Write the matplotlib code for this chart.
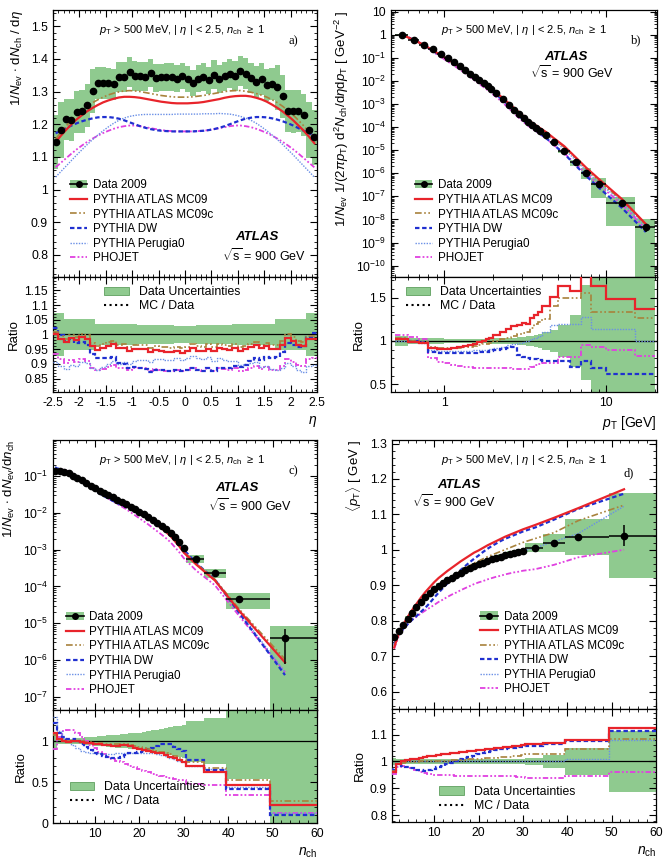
import numpy as np
import matplotlib
matplotlib.use("Agg")
import matplotlib.pyplot as plt
from matplotlib.patches import Patch
from matplotlib.lines import Line2D
from matplotlib.ticker import MultipleLocator, LogLocator, FixedLocator, FuncFormatter, NullFormatter

plt.rcParams['font.family'] = ['Liberation Sans', 'DejaVu Sans']
plt.rcParams['mathtext.fontset'] = 'custom'
plt.rcParams['mathtext.rm'] = 'Liberation Sans'
plt.rcParams['mathtext.it'] = 'Liberation Sans:italic'
plt.rcParams['mathtext.bf'] = 'Liberation Sans:bold'
plt.rcParams['axes.unicode_minus'] = False

# ---------------- a) dN/deta ----------------
eta_edges = np.round(np.arange(-2.5, 2.51, 0.1), 2)
eta_data = [1.145, 1.182, 1.215, 1.213, 1.237, 1.239, 1.258, 1.302, 1.327, 1.327,
            1.326, 1.322, 1.345, 1.345, 1.359, 1.349, 1.347, 1.345, 1.357, 1.343,
            1.344, 1.345, 1.345, 1.340, 1.347, 1.339, 1.327, 1.340, 1.345, 1.335,
            1.352, 1.340, 1.347, 1.355, 1.348, 1.363, 1.355, 1.342, 1.329, 1.338,
            1.320, 1.323, 1.313, 1.285, 1.240, 1.239, 1.240, 1.228, 1.182, 1.160]
eta_unc = [0.072, 0.072, 0.052, 0.052, 0.052, 0.052, 0.052, 0.052,
           0.037, 0.037, 0.036, 0.036, 0.035, 0.035, 0.034, 0.034, 0.033, 0.033,
           0.032, 0.032, 0.031, 0.031, 0.031, 0.030, 0.030, 0.030, 0.030, 0.031,
           0.031, 0.031, 0.032, 0.032, 0.033, 0.033, 0.034, 0.034, 0.035, 0.035,
           0.036, 0.036, 0.037, 0.037,
           0.052, 0.052, 0.052, 0.052, 0.052, 0.052, 0.072, 0.072]
eta_mc09 = [1.145, 1.165, 1.183, 1.200, 1.215, 1.228, 1.240, 1.250, 1.259, 1.267,
            1.273, 1.278, 1.282, 1.284, 1.284, 1.283, 1.281, 1.278, 1.275, 1.272,
            1.269, 1.267, 1.265, 1.264, 1.264, 1.264, 1.265, 1.266, 1.268, 1.271,
            1.274, 1.277, 1.281, 1.284, 1.286, 1.287, 1.287, 1.285, 1.281, 1.276,
            1.269, 1.260, 1.250, 1.239, 1.226, 1.212, 1.196, 1.180, 1.162, 1.142]
eta_mc09c = [1.155, 1.175, 1.195, 1.212, 1.228, 1.242, 1.255, 1.266, 1.275, 1.283,
             1.290, 1.295, 1.299, 1.302, 1.303, 1.302, 1.300, 1.297, 1.294, 1.291,
             1.288, 1.286, 1.284, 1.283, 1.283, 1.283, 1.284, 1.286, 1.288, 1.291,
             1.294, 1.297, 1.300, 1.302, 1.303, 1.303, 1.301, 1.298, 1.294, 1.289,
             1.283, 1.275, 1.266, 1.255, 1.242, 1.228, 1.212, 1.195, 1.176, 1.156]
eta_dw = [1.172, 1.180, 1.188, 1.196, 1.203, 1.209, 1.214, 1.218, 1.221, 1.222,
          1.222, 1.220, 1.217, 1.212, 1.206, 1.200, 1.194, 1.189, 1.185, 1.182,
          1.180, 1.179, 1.178, 1.178, 1.178, 1.178, 1.178, 1.179, 1.180, 1.182,
          1.185, 1.189, 1.194, 1.200, 1.206, 1.212, 1.217, 1.220, 1.222, 1.222,
          1.221, 1.218, 1.214, 1.209, 1.203, 1.196, 1.188, 1.180, 1.172, 1.165]
eta_perugia = [1.038, 1.055, 1.072, 1.089, 1.106, 1.122, 1.138, 1.153, 1.167, 1.180,
               1.192, 1.203, 1.212, 1.219, 1.224, 1.227, 1.229, 1.230, 1.230, 1.230,
               1.230, 1.230, 1.230, 1.231, 1.231, 1.231, 1.231, 1.231, 1.232, 1.232,
               1.232, 1.233, 1.232, 1.231, 1.228, 1.224, 1.219, 1.212, 1.203, 1.192,
               1.180, 1.167, 1.153, 1.138, 1.122, 1.106, 1.089, 1.072, 1.055, 1.038]
eta_phojet = [1.068, 1.082, 1.096, 1.110, 1.123, 1.135, 1.146, 1.156, 1.165, 1.173,
              1.180, 1.186, 1.191, 1.194, 1.196, 1.196, 1.194, 1.191, 1.188, 1.185,
              1.182, 1.180, 1.179, 1.178, 1.178, 1.178, 1.178, 1.179, 1.180, 1.182,
              1.185, 1.188, 1.191, 1.194, 1.196, 1.196, 1.194, 1.191, 1.186, 1.180,
              1.173, 1.165, 1.156, 1.146, 1.135, 1.123, 1.110, 1.096, 1.082, 1.068]

# ---------------- b) pT spectrum ----------------
pt_edges = [0.5, 0.6, 0.7, 0.8, 0.9, 1.0, 1.1, 1.2, 1.3, 1.4, 1.5, 1.6, 1.7, 1.8, 1.9,
            2.0, 2.2, 2.4, 2.6, 2.8, 3.0, 3.2, 3.4, 3.6, 3.8, 4.0, 4.5, 5.0, 6.0, 7.0,
            8.0, 10.0, 15.0, 20.0]
pt_data = [1.0, 0.603, 0.372, 0.234, 0.148, 0.0955, 0.0646, 0.0437, 0.0302, 0.0209,
           0.0148, 0.0107, 0.00794, 0.00589, 0.00437, 0.00288, 0.00166, 9.55e-4,
           5.75e-4, 3.63e-4, 2.40e-4, 1.66e-4, 1.20e-4, 8.91e-5, 6.76e-5, 4.37e-5,
           2.19e-5, 9.1e-6, 3.0e-6, 1.0e-6, 3.4e-7, 5.0e-8, 4.6e-9]
pt_unc_dn = [0.06, 0.03, 0.03, 0.03, 0.03, 0.025, 0.025, 0.025, 0.025, 0.025, 0.025,
             0.025, 0.025, 0.03, 0.03, 0.03, 0.035, 0.035, 0.04, 0.045, 0.05, 0.055,
             0.06, 0.07, 0.08, 0.10, 0.13, 0.18, 0.30, 0.45, 0.75, 0.90, 1.0]
pt_unc_up = [0.06, 0.03, 0.03, 0.03, 0.03, 0.025, 0.025, 0.025, 0.025, 0.025, 0.025,
             0.025, 0.025, 0.03, 0.03, 0.03, 0.035, 0.035, 0.04, 0.045, 0.05, 0.055,
             0.06, 0.07, 0.08, 0.10, 0.13, 0.18, 0.30, 0.65, 0.80, 0.85, 1.2]
pt_stat = [0, 0, 0, 0, 0, 0, 0, 0, 0, 0, 0, 0, 0, 0, 0, 0, 0, 0, 0, 0, 0, 0, 0, 0,
           0, 0, 0, 0.03, 0.05, 0.08, 0.1, 0.15, 0.4]
pt_r_mc09 = [1.02, 0.99, 0.98, 0.92, 0.91, 0.91, 0.92, 0.93, 0.94, 0.95, 0.97, 0.99,
             1.00, 1.02, 1.04, 1.07, 1.10, 1.14, 1.17, 1.19, 1.21, 1.20, 1.26, 1.30,
             1.34, 1.40, 1.51, 1.64, 1.58, 1.76, 1.64, 1.49, 1.37]
pt_r_mc09c = [1.03, 1.00, 0.99, 0.93, 0.92, 0.92, 0.92, 0.92, 0.93, 0.93, 0.94, 0.95,
              0.96, 0.97, 0.98, 1.00, 1.02, 1.04, 1.06, 1.08, 1.09, 1.10, 1.15, 1.20,
              1.22, 1.25, 1.40, 1.50, 1.50, 1.56, 1.34, 1.34, 1.27]
pt_r_dw = [1.02, 1.00, 0.99, 0.87, 0.86, 0.86, 0.86, 0.86, 0.86, 0.86, 0.86, 0.87,
           0.87, 0.87, 0.88, 0.89, 0.91, 0.92, 0.93, 0.84, 0.81, 0.80, 0.79, 0.79,
           0.78, 0.77, 0.77, 0.77, 0.70, 0.77, 0.69, 0.62, 0.62]
pt_r_perugia = [1.00, 0.99, 0.98, 0.89, 0.88, 0.88, 0.88, 0.88, 0.88, 0.88, 0.89, 0.89,
                0.90, 0.90, 0.91, 0.92, 0.93, 0.95, 0.96, 0.98, 0.99, 1.00, 1.02, 1.04,
                1.06, 1.10, 1.19, 1.20, 1.20, 1.28, 1.14, 1.14, 1.00]
pt_r_phojet = [1.07, 1.05, 1.02, 0.80, 0.76, 0.74, 0.72, 0.71, 0.70, 0.70, 0.69, 0.69,
               0.69, 0.69, 0.69, 0.69, 0.69, 0.69, 0.68, 0.67, 0.67, 0.68, 0.70, 0.72,
               0.73, 0.74, 0.75, 0.81, 0.82, 0.95, 0.93, 0.89, 0.83]

# ---------------- c) / d) vs n_ch ----------------
nch_x = [1, 2, 3, 4, 5, 6, 7, 8, 9, 10, 11, 12, 13, 14, 15, 16, 17, 18, 19, 20,
         21, 22, 23, 24, 25, 26, 27, 28, 29, 30, 32.8, 37.0, 42.5, 52.8]
nch_edges = [0.5, 1.5, 2.5, 3.5, 4.5, 5.5, 6.5, 7.5, 8.5, 9.5, 10.5, 11.5, 12.5, 13.5,
             14.5, 15.5, 16.5, 17.5, 18.5, 19.5, 20.5, 21.5, 22.5, 23.5, 24.5, 25.5,
             26.5, 27.5, 28.5, 29.5, 30.5, 34.5, 39.5, 49.5, 60.5]

nch_data = [0.138, 0.138, 0.132, 0.117, 0.102, 0.0891, 0.0759, 0.0646, 0.0550, 0.0468,
            0.0398, 0.0347, 0.0302, 0.0263, 0.0229, 0.0200, 0.0174, 0.0148, 0.0126,
            0.0107, 0.00912, 0.00776, 0.00646, 0.00537, 0.00447, 0.00363, 0.00288,
            0.00214, 0.00158, 0.00112, 5.6e-4, 2.34e-4, 4.6e-5, 3.9e-6]
nch_unc = [0.10, 0.04, 0.03, 0.03, 0.03, 0.035, 0.04, 0.045, 0.05, 0.055, 0.06, 0.065,
           0.07, 0.075, 0.08, 0.085, 0.09, 0.095, 0.10, 0.105, 0.11, 0.12, 0.13, 0.14,
           0.15, 0.16, 0.17, 0.18, 0.19, 0.20, 0.25, 0.28, 0.46, 1.1]
nch_stat = [0, 0, 0, 0, 0, 0, 0, 0, 0, 0, 0, 0, 0, 0, 0, 0, 0, 0, 0, 0, 0, 0, 0, 0,
            0, 0, 0, 0, 0, 0, 0.03, 0.05, 0.10, 0.80]
nch_r_mc09 = [1.10, 1.02, 1.00, 0.99, 1.00, 1.00, 0.99, 0.98, 0.975, 0.97, 0.96, 0.955,
              0.95, 0.945, 0.945, 0.95, 0.955, 0.94, 0.92, 0.90, 0.89, 0.88, 0.87,
              0.86, 0.85, 0.83, 0.81, 0.79, 0.77, 0.74, 0.70, 0.62, 0.47, 0.22]
nch_r_mc09c = [1.08, 1.02, 1.00, 1.00, 1.00, 1.00, 1.00, 0.99, 0.985, 0.98, 0.975,
               0.97, 0.965, 0.96, 0.96, 0.965, 0.97, 0.955, 0.94, 0.925, 0.91, 0.90,
               0.89, 0.88, 0.87, 0.855, 0.84, 0.82, 0.80, 0.77, 0.74, 0.67, 0.52, 0.27]
nch_r_dw = [1.22, 1.10, 1.05, 1.03, 1.02, 1.00, 0.97, 0.93, 0.89, 0.86, 0.84, 0.82,
            0.81, 0.80, 0.80, 0.81, 0.83, 0.85, 0.86, 0.87, 0.88, 0.90, 0.92, 0.94,
            0.96, 0.97, 0.96, 0.93, 0.90, 0.88, 0.77, 0.65, 0.41, 0.10]
nch_r_perugia = [1.30, 1.12, 1.04, 1.00, 0.95, 0.91, 0.88, 0.87, 0.86, 0.85, 0.85,
                 0.84, 0.84, 0.84, 0.85, 0.85, 0.86, 0.86, 0.86, 0.86, 0.86, 0.85,
                 0.85, 0.84, 0.83, 0.82, 0.80, 0.78, 0.76, 0.74, 0.70, 0.66, 0.44, 0.12]
nch_r_phojet = [0.90, 1.05, 1.12, 1.14, 1.13, 1.10, 1.05, 1.00, 0.95, 0.91, 0.87, 0.84,
                0.81, 0.78, 0.76, 0.74, 0.72, 0.70, 0.68, 0.66, 0.64, 0.62, 0.60, 0.585,
                0.57, 0.56, 0.55, 0.54, 0.53, 0.52, 0.48, 0.46, 0.34, 0.12]

mpt_data = [0.755, 0.771, 0.788, 0.806, 0.823, 0.838, 0.853, 0.866, 0.878, 0.889,
            0.899, 0.907, 0.915, 0.922, 0.929, 0.936, 0.942, 0.948, 0.954, 0.959,
            0.964, 0.969, 0.973, 0.977, 0.981, 0.985, 0.988, 0.991, 0.994, 0.997,
            1.006, 1.020, 1.036, 1.040]
mpt_unc = [0.012, 0.008, 0.008, 0.008, 0.008, 0.008, 0.008, 0.008, 0.008, 0.008,
           0.008, 0.008, 0.008, 0.008, 0.008, 0.008, 0.008, 0.008, 0.008, 0.008,
           0.008, 0.008, 0.008, 0.008, 0.008, 0.008, 0.008, 0.008, 0.008, 0.008,
           0.012, 0.025, 0.05, 0.115]
mpt_stat = [0, 0, 0, 0, 0, 0, 0, 0, 0, 0, 0, 0, 0, 0, 0, 0, 0, 0, 0, 0, 0, 0, 0, 0,
            0, 0, 0, 0, 0, 0, 0.003, 0.005, 0.01, 0.03]
mpt_r_mc09 = [0.96, 0.99, 1.00, 1.005, 1.008, 1.011, 1.014, 1.017, 1.019, 1.022, 1.024,
              1.026, 1.028, 1.030, 1.032, 1.034, 1.036, 1.038, 1.040, 1.041, 1.043,
              1.045, 1.047, 1.049, 1.051, 1.053, 1.055, 1.057, 1.059, 1.061, 1.064,
              1.069, 1.079, 1.126]
mpt_r_mc09c = [0.965, 0.99, 0.995, 0.997, 0.998, 0.999, 1.000, 1.000, 1.001, 1.001,
               1.002, 1.002, 1.003, 1.004, 1.005, 1.006, 1.007, 1.008, 1.009, 1.010,
               1.011, 1.012, 1.013, 1.014, 1.015, 1.016, 1.018, 1.020, 1.022, 1.024,
               1.026, 1.028, 1.045, 1.083]
mpt_r_dw = [0.97, 0.99, 0.985, 0.98, 0.975, 0.97, 0.967, 0.966, 0.968, 0.973, 0.978,
            0.984, 0.990, 0.996, 1.002, 1.008, 1.013, 1.018, 1.022, 1.026, 1.031,
            1.035, 1.039, 1.042, 1.045, 1.047, 1.049, 1.051, 1.053, 1.055, 1.057,
            1.064, 1.077, 1.114]
mpt_r_perugia = [0.975, 0.995, 1.0, 1.0, 1.0, 1.0, 1.0, 1.0, 1.0, 1.0, 1.0, 1.0, 1.0,
                 1.0, 1.0, 1.0, 1.0, 1.0, 1.0, 1.0, 1.0, 1.0, 1.0, 1.0, 1.0, 1.0, 1.0,
                 1.0, 1.0, 1.0, 1.0, 1.003, 1.01, 1.08]
mpt_r_phojet = [0.955, 0.98, 0.985, 0.98, 0.975, 0.968, 0.962, 0.957, 0.953, 0.950,
                0.949, 0.948, 0.948, 0.948, 0.947, 0.947, 0.947, 0.947, 0.947, 0.947,
                0.946, 0.946, 0.946, 0.946, 0.945, 0.945, 0.945, 0.945, 0.944, 0.944,
                0.940, 0.939, 0.945, 0.962]

mc_labels = ['PYTHIA ATLAS MC09', 'PYTHIA ATLAS MC09c', 'PYTHIA DW',
             'PYTHIA Perugia0', 'PHOJET']
mc_styles = [dict(color='#e8242b', ls='-', lw=1.6),
             dict(color='#a8823c', ls=(0, (4, 1.5, 1, 1.5, 1, 1.5)), lw=1.2),
             dict(color='#2030d0', ls=(0, (2, 1.2)), lw=1.6),
             dict(color='#6a8fe6', ls=(0, (1, 1)), lw=1.0),
             dict(color='#e040e0', ls=(0, (3, 1.2, 1, 1.2, 1, 1.2)), lw=1.3)]
GREEN = '#8fca8f'
HEADER = r'$p_{\rm T}$ > 500 MeV, | $\eta$ | < 2.5, $n_{\rm ch}$ $\geq$ 1'

fig = plt.figure(figsize=(6.68, 8.67), dpi=100)


def style(ax):
    ax.tick_params(which='both', direction='in', top=True, right=True, labelsize=8.8)
    ax.tick_params(which='major', length=5, width=0.8)
    ax.tick_params(which='minor', length=2.5, width=0.6)
    for s in ax.spines.values():
        s.set_linewidth(0.9)


def pair(rm, rr):
    axm = fig.add_axes(rm)
    axr = fig.add_axes(rr, sharex=axm)
    style(axm)
    style(axr)
    axm.tick_params(labelbottom=False)
    return axm, axr


def logfmt(v, pos):
    e = int(round(np.log10(v)))
    if e == 0:
        return '1'
    if e == 1:
        return '10'
    return r'$10^{%d}$' % e


def gfmt(v, pos):
    return '%g' % round(v, 3)


def decorate(ax, letter, hx, lx, ly, atlas_xy, sqrt_xy):
    ax.text(hx, 0.925, HEADER, transform=ax.transAxes, ha='center', va='center', fontsize=8)
    ax.text(lx, ly, letter, transform=ax.transAxes, ha='center', va='center',
            fontsize=9, family='Liberation Serif')
    ax.text(*atlas_xy, 'ATLAS', transform=ax.transAxes, ha='center', va='center',
            fontsize=9.5, weight='bold', style='italic')
    ax.text(*sqrt_xy, r'$\sqrt{\rm s}$ = 900 GeV', transform=ax.transAxes,
            ha='center', va='center', fontsize=9)


def main_legend(ax, anchor):
    h = [(Patch(facecolor=GREEN, edgecolor='none'),
          Line2D([], [], color='k', lw=1.2, marker='o', ms=4))]
    h += [Line2D([], [], **st) for st in mc_styles]
    ax.legend(h, ['Data 2009'] + mc_labels, loc='upper left', bbox_to_anchor=anchor,
              frameon=False, fontsize=8.4, handlelength=1.5, handletextpad=0.5,
              labelspacing=0.22, borderpad=0.1, borderaxespad=0)


def ratio_legend(ax, anchor):
    h = [Patch(facecolor=GREEN, edgecolor='#5f9f5f', lw=0.6),
         Line2D([], [], color='k', ls=':', lw=1.5)]
    ax.legend(h, ['Data Uncertainties', 'MC / Data'], loc='upper left',
              bbox_to_anchor=anchor, frameon=False, fontsize=8.8, handlelength=2.0,
              handletextpad=0.8, labelspacing=0.15, borderpad=0.1, borderaxespad=0)


def band_main(ax, edges, y, dn, up, floor=None):
    edges = np.asarray(edges)
    y = np.asarray(y)
    lo = y * (1 - np.asarray(dn))
    hi = y * (1 + np.asarray(up))
    if floor is not None:
        lo = np.maximum(lo, floor)
    ax.bar(edges[:-1], hi - lo, width=np.diff(edges), bottom=lo, align='edge',
           color=GREEN, lw=0, zorder=1)


def ratio_panel(ax, edges, dn, up, ratios):
    ax.stairs(1 + np.asarray(up), edges, baseline=1 - np.asarray(dn), fill=True,
              color=GREEN, lw=0, zorder=1)
    ax.axhline(1, color='k', lw=0.9, zorder=2)
    for r, st in list(zip(ratios, mc_styles))[::-1]:
        ax.stairs(r, edges, baseline=None, edgecolor=st['color'], linestyle=st['ls'],
                  linewidth=st['lw'], zorder=3)
    ax.set_ylabel('Ratio', fontsize=9.5, labelpad=3)


# ===== panel a =====
axm, axr = pair([0.0793, 0.6805, 0.3952, 0.3080], [0.0793, 0.5479, 0.3952, 0.1326])
eta_c = 0.5 * (eta_edges[:-1] + eta_edges[1:])
d_a = np.array(eta_data)
mcs_a = [eta_mc09, eta_mc09c, eta_dw, eta_perugia, eta_phojet]
band_main(axm, eta_edges, d_a, eta_unc, eta_unc)
for m, st in list(zip(mcs_a, mc_styles))[::-1]:
    axm.plot(eta_c, m, zorder=3, **st)
axm.plot(eta_c, d_a, 'o', color='k', ms=4.5, zorder=5)
axm.set_xlim(-2.5, 2.5)
axm.set_ylim(0.732, 1.55)
axm.yaxis.set_major_locator(MultipleLocator(0.1))
axm.yaxis.set_minor_locator(MultipleLocator(0.02))
axm.yaxis.set_major_formatter(FuncFormatter(gfmt))
axm.xaxis.set_major_locator(MultipleLocator(0.5))
axm.xaxis.set_minor_locator(MultipleLocator(0.1))
axm.set_ylabel(r'1/$N_{\rm ev}$ $\cdot$ d$N_{\rm ch}$ / d$\eta$', fontsize=9.5, loc='top')
decorate(axm, 'a)', 0.487, 0.91, 0.884, (0.772, 0.149), (0.80, 0.082))
main_legend(axm, (0.06, 0.37))
ratio_panel(axr, eta_edges, eta_unc, eta_unc, [np.array(m) / d_a for m in mcs_a])
axr.set_ylim(0.805, 1.195)
axr.yaxis.set_major_locator(MultipleLocator(0.05))
axr.yaxis.set_minor_locator(MultipleLocator(0.01))
axr.yaxis.set_major_formatter(FuncFormatter(gfmt))
axr.xaxis.set_major_formatter(FuncFormatter(gfmt))
axr.set_xlabel(r'$\eta$', fontsize=10, loc='right')
ratio_legend(axr, (0.19, 0.93))

# ===== panel b =====
axm, axr = pair([0.5853, 0.6805, 0.3982, 0.3080], [0.5853, 0.5479, 0.3982, 0.1326])
pe = np.array(pt_edges)
pc = 0.5 * (pe[:-1] + pe[1:])
d_b = np.array(pt_data)
rat_b = [np.array(r) for r in (pt_r_mc09, pt_r_mc09c, pt_r_dw, pt_r_perugia, pt_r_phojet)]
axm.set_xscale('log')
axm.set_yscale('log')
band_main(axm, pe, d_b, pt_unc_dn, pt_unc_up, floor=3.2e-11)
for r, st in list(zip(rat_b, mc_styles))[::-1]:
    axm.plot(pc, d_b * r, zorder=3, **st)
axm.errorbar(pc, d_b, xerr=[pc - pe[:-1], pe[1:] - pc], yerr=d_b * np.array(pt_stat),
             fmt='o', color='k', ms=4.5, lw=1.1, capsize=0, zorder=5)
axm.set_xlim(0.47, 20.5)
axm.set_ylim(3.2e-11, 12)
axm.yaxis.set_major_locator(LogLocator(base=10, numticks=30))
axm.yaxis.set_minor_locator(LogLocator(base=10, subs=np.arange(2, 10), numticks=30))
axm.yaxis.set_major_formatter(FuncFormatter(logfmt))
axm.yaxis.set_minor_formatter(NullFormatter())
axm.set_ylabel(r'1/$N_{\rm ev}$ 1/(2$\pi p_{\rm T}$) d$^2N_{\rm ch}$/d$\eta$d$p_{\rm T}$ [ GeV$^{-2}$ ]',
               fontsize=9.5, loc='top')
decorate(axm, 'b)', 0.5, 0.92, 0.888, (0.659, 0.825), (0.682, 0.766))
main_legend(axm, (0.085, 0.37))
ratio_panel(axr, pe, pt_unc_dn, pt_unc_up, rat_b)
axr.set_ylim(0.41, 1.74)
axr.yaxis.set_major_locator(MultipleLocator(0.5))
axr.yaxis.set_minor_locator(MultipleLocator(0.1))
axr.yaxis.set_major_formatter(FuncFormatter(gfmt))
axr.xaxis.set_major_locator(FixedLocator([1, 10]))
axr.xaxis.set_minor_locator(FixedLocator([0.5, 0.6, 0.7, 0.8, 0.9, 2, 3, 4, 5, 6, 7, 8, 9, 20]))
axr.xaxis.set_major_formatter(FuncFormatter(lambda v, p: '%g' % v))
axr.xaxis.set_minor_formatter(NullFormatter())
axr.set_xlabel(r'$p_{\rm T}$ [GeV]', fontsize=10, loc='right')
ratio_legend(axr, (0.05, 0.93))

# ===== panel c =====
axm, axr = pair([0.0793, 0.1811, 0.3952, 0.3114], [0.0793, 0.0507, 0.3952, 0.1304])
ne = np.array(nch_edges)
nx = np.array(nch_x)
d_c = np.array(nch_data)
rat_c = [np.array(r) for r in (nch_r_mc09, nch_r_mc09c, nch_r_dw, nch_r_perugia, nch_r_phojet)]
axm.set_yscale('log')
band_main(axm, ne, d_c, nch_unc, nch_unc, floor=4.4e-8)
for r, st in list(zip(rat_c, mc_styles))[::-1]:
    axm.plot(nx, d_c * r, zorder=3, **st)
axm.errorbar(nx, d_c, xerr=[nx - ne[:-1], ne[1:] - nx], yerr=d_c * np.array(nch_stat),
             fmt='o', color='k', ms=4.5, lw=1.1, capsize=0, zorder=5)
axm.set_xlim(0.5, 60)
axm.set_ylim(4.4e-8, 0.95)
axm.yaxis.set_major_locator(LogLocator(base=10, numticks=30))
axm.yaxis.set_minor_locator(LogLocator(base=10, subs=np.arange(2, 10), numticks=30))
axm.yaxis.set_major_formatter(FuncFormatter(logfmt))
axm.yaxis.set_minor_formatter(NullFormatter())
axm.xaxis.set_major_locator(MultipleLocator(10))
axm.xaxis.set_minor_locator(MultipleLocator(2))
axm.set_ylabel(r'1/$N_{\rm ev}$ $\cdot$ d$N_{\rm ev}$/d$n_{\rm ch}$', fontsize=9.5, loc='top')
decorate(axm, 'c)', 0.487, 0.91, 0.883, (0.696, 0.821), (0.746, 0.759))
main_legend(axm, (0.045, 0.37))
ratio_panel(axr, ne, nch_unc, nch_unc, rat_c)
axr.set_ylim(0, 1.38)
axr.yaxis.set_major_locator(MultipleLocator(0.5))
axr.yaxis.set_minor_locator(MultipleLocator(0.1))
axr.yaxis.set_major_formatter(FuncFormatter(gfmt))
axr.set_xlabel(r'$n_{\rm ch}$', fontsize=10, loc='right')
ratio_legend(axr, (0.06, 0.38))

# ===== panel d =====
axm, axr = pair([0.5868, 0.1822, 0.3952, 0.3103], [0.5868, 0.0519, 0.3952, 0.1303])
d_d = np.array(mpt_data)
rat_d = [np.array(r) for r in (mpt_r_mc09, mpt_r_mc09c, mpt_r_dw, mpt_r_perugia, mpt_r_phojet)]
band_main(axm, ne, d_d, mpt_unc, mpt_unc)
for r, st in list(zip(rat_d, mc_styles))[::-1]:
    axm.plot(nx, d_d * r, zorder=3, **st)
axm.errorbar(nx, d_d, xerr=[nx - ne[:-1], ne[1:] - nx], yerr=np.array(mpt_stat),
             fmt='o', color='k', ms=4.5, lw=1.1, capsize=0, zorder=5)
axm.set_xlim(0.5, 60)
axm.set_ylim(0.551, 1.31)
axm.yaxis.set_major_locator(MultipleLocator(0.1))
axm.yaxis.set_minor_locator(MultipleLocator(0.02))
axm.yaxis.set_major_formatter(FuncFormatter(gfmt))
axm.xaxis.set_major_locator(MultipleLocator(10))
axm.xaxis.set_minor_locator(MultipleLocator(2))
axm.set_ylabel(r'$\langle p_{\rm T}\rangle$ [ GeV ]', fontsize=9.5, loc='top')
decorate(axm, 'd)', 0.5, 0.898, 0.876, (0.254, 0.833), (0.235, 0.771))
main_legend(axm, (0.33, 0.37))
ratio_panel(axr, ne, mpt_unc, mpt_unc, rat_d)
axr.set_ylim(0.775, 1.195)
axr.yaxis.set_major_locator(MultipleLocator(0.1))
axr.yaxis.set_minor_locator(MultipleLocator(0.02))
axr.yaxis.set_major_formatter(FuncFormatter(gfmt))
axr.set_xlabel(r'$n_{\rm ch}$', fontsize=10, loc='right')
ratio_legend(axr, (0.175, 0.33))

fig.savefig('out.png', dpi=100)
